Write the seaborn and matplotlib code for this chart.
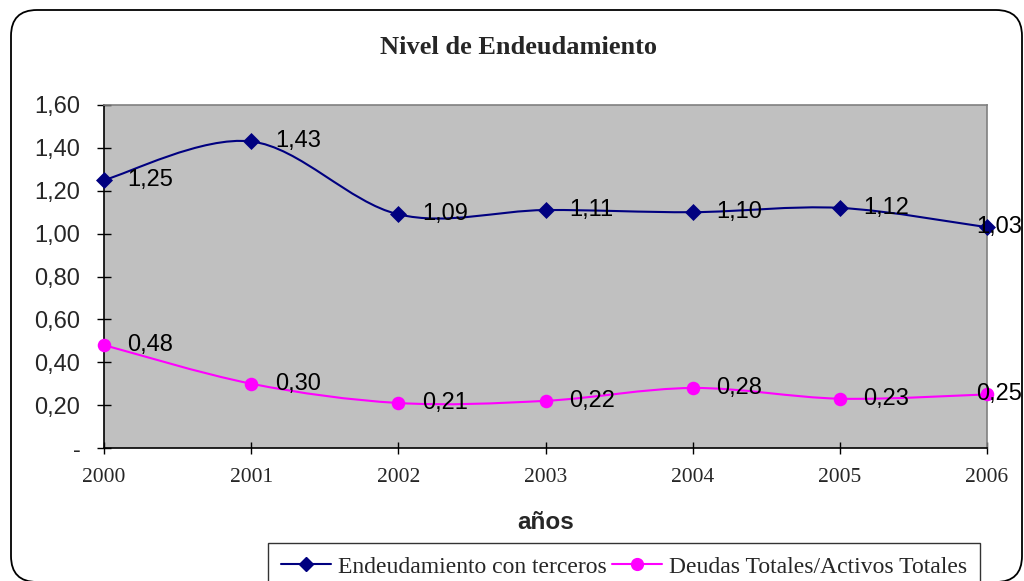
import numpy as np
import pandas as pd
import matplotlib
matplotlib.use("Agg")
import matplotlib.pyplot as plt
import seaborn as sns
from matplotlib.path import Path
from matplotlib.patches import PathPatch, FancyBboxPatch
from matplotlib.lines import Line2D
from matplotlib.ticker import FuncFormatter, MultipleLocator

years = ["2000", "2001", "2002", "2003", "2004", "2005", "2006"]
endeudamiento = [1.25, 1.43, 1.09, 1.11, 1.10, 1.12, 1.03]
deudas_activos = [0.48, 0.30, 0.21, 0.22, 0.28, 0.23, 0.25]
series_names = ["Endeudamiento con terceros", "Deudas Totales/Activos Totales"]
title = "Nivel de Endeudamiento"
xlabel = "años"

colors = ["#000080", "#FF00FF"]
markers = ["D", "o"]

sns.set_theme(style="white")
plt.rcParams["font.family"] = ["Liberation Sans", "DejaVu Sans"]

fig = plt.figure(figsize=(10.24, 5.81), dpi=100)
ax = fig.add_axes([104 / 1024, 1 - 448 / 581, (987 - 104) / 1024, (448 - 105) / 581])
ax.set_facecolor("#C0C0C0")

df = pd.DataFrame({
    "x": list(range(len(years))) * 2,
    "y": endeudamiento + deudas_activos,
    "serie": [series_names[0]] * len(years) + [series_names[1]] * len(years),
})


def smooth_path(xs, ys):
    pts = np.column_stack([xs, ys]).astype(float)
    n = len(pts)
    verts = [pts[0]]
    codes = [Path.MOVETO]
    for i in range(n - 1):
        p0 = pts[i - 1] if i > 0 else pts[i]
        p1 = pts[i]
        p2 = pts[i + 1]
        p3 = pts[i + 2] if i + 2 < n else pts[i + 1]
        c1 = p1 + (p2 - p0) / 6.0
        c2 = p2 - (p3 - p1) / 6.0
        verts += [c1, c2, p2]
        codes += [Path.CURVE4] * 3
    return Path(verts, codes)


for name, color, mk in zip(series_names, colors, markers):
    sub = df[df["serie"] == name]
    patch = PathPatch(smooth_path(sub["x"].values, sub["y"].values),
                      facecolor="none", edgecolor=color, lw=1.5, zorder=3)
    ax.add_patch(patch)
    sns.scatterplot(data=sub, x="x", y="y", color=color, marker=mk,
                    s=75 if mk == "D" else 95, edgecolor=color, linewidth=0,
                    ax=ax, zorder=4, clip_on=False, legend=False)
    n = len(sub)
    for k, (xv, yv) in enumerate(zip(sub["x"].values, sub["y"].values)):
        off = 17 if k < n - 1 else -8
        ax.annotate(f"{yv:.2f}".replace(".", ","), (xv, yv),
                    xytext=(off, 0), textcoords="offset points",
                    ha="left", va="center", fontsize=17, color="black",
                    zorder=5, annotation_clip=False)

ax.set_xlim(0, len(years) - 1)
ax.set_ylim(0, 1.6)
ax.set_xticks(range(len(years)))
ax.set_xticklabels(years, fontfamily="Liberation Serif", fontsize=15.5)
ax.yaxis.set_major_locator(MultipleLocator(0.2))
ax.yaxis.set_major_formatter(FuncFormatter(
    lambda v, p: "-" if abs(v) < 1e-9 else f"{v:.2f}".replace(".", ",")))
ax.tick_params(axis="y", labelsize=17, direction="inout", length=10, width=1,
               color="black", pad=12, left=True)
ax.tick_params(axis="x", direction="inout", length=9, width=1,
               color="black", pad=10, bottom=True)
ax.set_xlabel(xlabel, fontsize=17.5, fontweight="bold", labelpad=17)
ax.set_ylabel("")

for s in ["left", "bottom"]:
    ax.spines[s].set_color("black")
    ax.spines[s].set_linewidth(1.2)
for s in ["top", "right"]:
    ax.spines[s].set_color("#808080")
    ax.spines[s].set_linewidth(1.2)

fig.text(518 / 1024, 1 - 47 / 581, title, ha="center", va="center",
         fontsize=19, fontweight="bold", fontfamily="Liberation Serif")

handles = [Line2D([0], [0], color=c, marker=m, lw=1.5,
                  markersize=7 if m == "D" else 8.5)
           for c, m in zip(colors, markers)]
leg = fig.legend(handles, series_names, loc="upper left",
                 bbox_to_anchor=(268 / 1024, 1 - 543 / 581), ncol=2,
                 frameon=True, fancybox=False, edgecolor="black",
                 prop={"family": "Liberation Serif", "size": 17},
                 handlelength=2.1, handletextpad=0.3, columnspacing=0.25,
                 borderpad=0.55, borderaxespad=0)
leg.get_frame().set_linewidth(1.0)

border = FancyBboxPatch((11, -1), 1011, 572,
                        boxstyle="round,pad=0,rounding_size=26",
                        transform=None, facecolor="none", edgecolor="black",
                        lw=1.3)
fig.patches.append(border)

fig.savefig("out.png", dpi=100)
